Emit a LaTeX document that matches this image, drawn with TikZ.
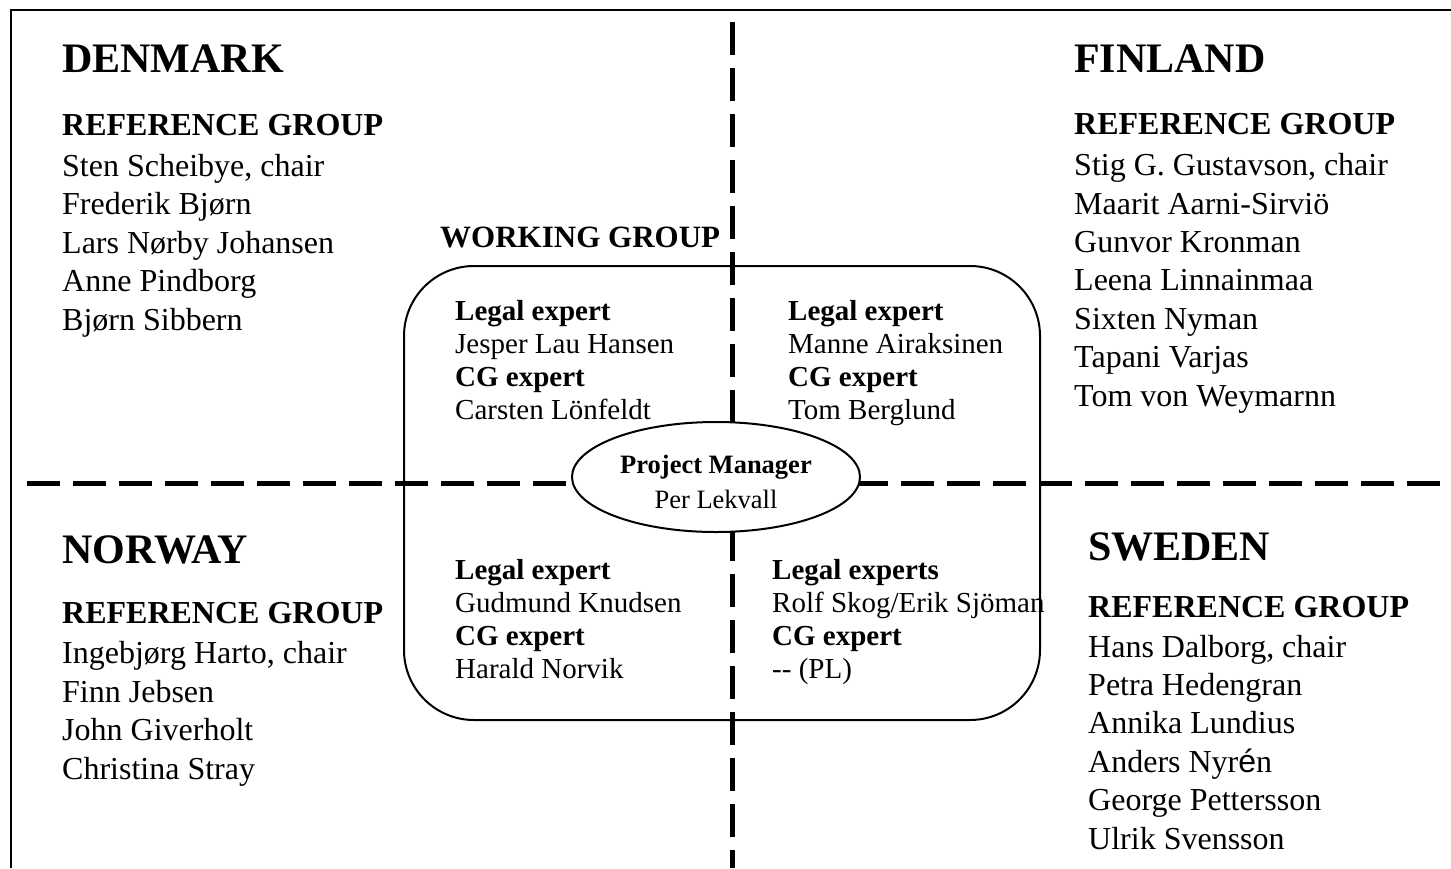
\documentclass[tikz,border=0pt]{standalone}
\usepackage{fontspec}
\setmainfont{Liberation Serif}
\newfontfamily\sansfallback{Liberation Sans}
\usetikzlibrary{shapes.geometric}

\tikzset{
  frameline/.style={line width=2.5pt},
  divider/.style={line width=5pt, dash pattern=on 33pt off 13pt},
  country/.style={anchor=base west, inner sep=0pt, font=\bfseries\fontsize{42}{50}\selectfont},
  members/.style={anchor=base west, inner sep=0pt, align=left, font=\fontsize{32}{38.4}\selectfont},
  experts/.style={anchor=base west, inner sep=0pt, align=left, font=\fontsize{29}{33}\selectfont},
}

\begin{document}
\begin{tikzpicture}[x=1pt,y=-1pt]
        \useasboundingbox (0,0) rectangle (1451,868);
        % outer frame, cut off at right and bottom
        \draw[frameline] (1451,10) -- (11,10) -- (11,868);
        % working group box
        \draw[line width=2pt, rounded corners=70pt] (404,266) rectangle (1040,720);
        % dividers between the countries
        \draw[divider] (732,22) -- (732,868);
        \draw[divider] (27,483) -- (1451,483);
        % project manager (node base = last line)
        \node[ellipse, draw, line width=2pt, fill=white, inner sep=0pt,
          minimum width=288pt, minimum height=110pt] (pm) at (716,477) {};
        \node[anchor=base, align=center, inner sep=0pt,
          font=\fontsize{26.5}{35}\selectfont] (pmtext) at (716,508)
          {\textbf{Project Manager}\\Per Lekvall};
        % Denmark
        \node[country] (denmark) at (62,72) {DENMARK};
        \node[members] (dkref) at (62,330) {\textbf{REFERENCE GROUP}\\[3pt]
          Sten Scheibye, chair\\Frederik Bjørn\\Lars Nørby Johansen\\
          Anne Pindborg\\Bjørn Sibbern};
        % Finland
        \node[country] (finland) at (1074,72) {FINLAND};
        \node[members] (firef) at (1074,406) {\textbf{REFERENCE GROUP}\\[3pt]
          Stig G. Gustavson, chair\\Maarit Aarni-Sirviö\\Gunvor Kronman\\
          Leena Linnainmaa\\Sixten Nyman\\Tapani Varjas\\Tom von Weymarnn};
        % Norway
        \node[country] (norway) at (62,563) {NORWAY};
        \node[members] (noref) at (62,779) {\textbf{REFERENCE GROUP}\\[1.5pt]
          Ingebjørg Harto, chair\\Finn Jebsen\\John Giverholt\\Christina Stray};
        % Sweden
        \node[country] (sweden) at (1088,560) {SWEDEN};
        \node[members] (seref) at (1088,849) {\textbf{REFERENCE GROUP}\\[1.5pt]
          Hans Dalborg, chair\\Petra Hedengran\\Annika Lundius\\
          Anders Nyr{\sansfallback é}n\\George Pettersson\\Ulrik Svensson};
        % working group
        \node[anchor=base west, inner sep=0pt, font=\bfseries\fontsize{31}{37}\selectfont]
          (wg) at (440,247) {WORKING GROUP};
        \node[experts] (dkexp) at (455,419) {\textbf{Legal expert}\\Jesper Lau Hansen\\
          \textbf{CG expert}\\Carsten Lönfeldt};
        \node[experts] (fiexp) at (788,419) {\textbf{Legal expert}\\Manne Airaksinen\\
          \textbf{CG expert}\\Tom Berglund};
        \node[experts] (noexp) at (455,678) {\textbf{Legal expert}\\Gudmund Knudsen\\
          \textbf{CG expert}\\Harald Norvik};
        \node[experts] (seexp) at (772,678) {\textbf{Legal experts}\\Rolf Skog/Erik Sjöman\\
          \textbf{CG expert}\\{-}{-} (PL)};
\end{tikzpicture}
\end{document}
